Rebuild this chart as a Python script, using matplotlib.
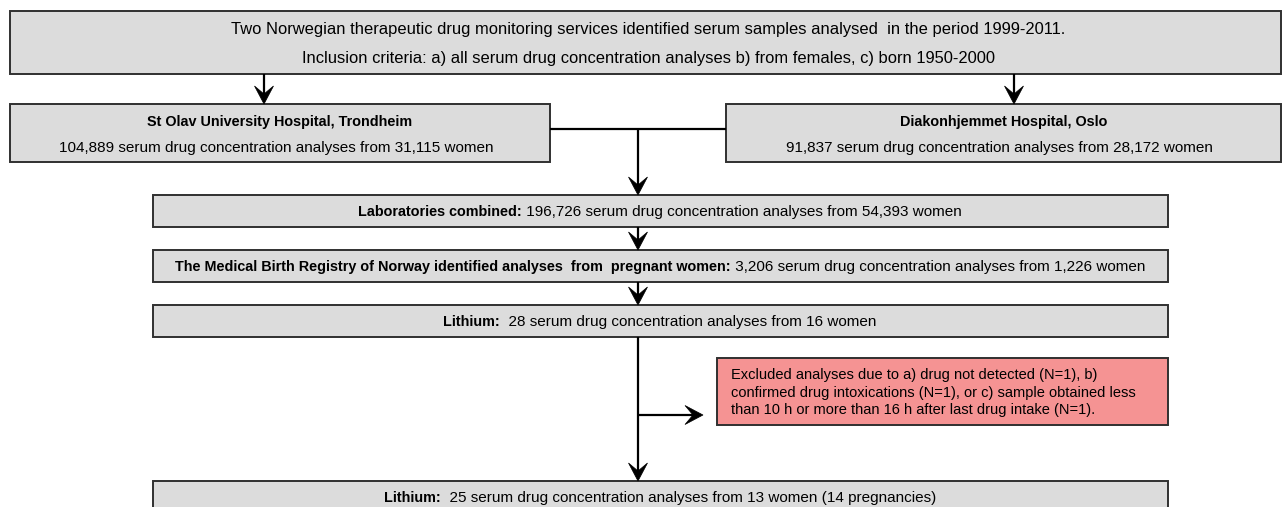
import matplotlib
matplotlib.use("Agg")
import matplotlib.pyplot as plt
from matplotlib.patches import Rectangle, Polygon

plt.rcParams['font.family'] = ['Liberation Sans', 'DejaVu Sans']

# ---- content ----
top_lines = [
    "Two Norwegian therapeutic drug monitoring services identified serum samples analysed  in the period 1999-2011.",
    "Inclusion criteria: a) all serum drug concentration analyses b) from females, c) born 1950-2000",
]
lab_names = ["St Olav University Hospital, Trondheim", "Diakonhjemmet Hospital, Oslo"]
lab_analyses = ["104,889", "91,837"]
lab_women = ["31,115", "28,172"]
step_bold = [
    "Laboratories combined:",
    "The Medical Birth Registry of Norway identified analyses  from  pregnant women:",
    "Lithium:",
    "Lithium:",
]
step_rest = [
    " 196,726 serum drug concentration analyses from 54,393 women",
    " 3,206 serum drug concentration analyses from 1,226 women",
    "  28 serum drug concentration analyses from 16 women",
    "  25 serum drug concentration analyses from 13 women (14 pregnancies)",
]
excluded_lines = [
    "Excluded analyses due to a) drug not detected (N=1), b)",
    "confirmed drug intoxications (N=1), or c) sample obtained less",
    "than 10 h or more than 16 h after last drug intake (N=1).",
]

# ---- style ----
W, H = 1285, 507
GRAY = "#dcdcdc"
RED = "#f59393"
EDGE = "#303030"
FS = 11
FS_BOLD = 10.4
FS_TOP = 11.9

fig = plt.figure(figsize=(W / 100, H / 100), dpi=100)
ax = fig.add_axes([0, 0, 1, 1])
ax.set_xlim(0, W)
ax.set_ylim(H, 0)
ax.axis("off")


def box(x0, y0, x1, y1, color=GRAY):
    ax.add_patch(Rectangle((x0, y0), x1 - x0, y1 - y0, facecolor=color,
                           edgecolor=EDGE, linewidth=1.4, zorder=2))


def line(xs, ys):
    ax.plot(xs, ys, color="black", linewidth=1.6, solid_capstyle="butt", zorder=3)


def head(x, y, direction="down"):
    L, Wd, notch = 18, 9.5, 10
    if direction == "down":
        pts = [(x, y), (x - Wd, y - L), (x, y - notch), (x + Wd, y - L)]
    else:  # right
        pts = [(x, y), (x - L, y - Wd), (x - notch, y), (x - L, y + Wd)]
    ax.add_patch(Polygon(pts, closed=True, facecolor="black", edgecolor="black",
                         linewidth=0.5, zorder=4))


def arrow_down(x, y0, y1):
    line([x, x], [y0, y1 - 6])
    head(x, y1)


def mixed(xc, yb, bold, rest):
    r = fig.canvas.get_renderer()
    t1 = ax.text(0, yb, bold, fontsize=FS_BOLD, fontweight="bold", ha="left", va="baseline", zorder=5)
    t2 = ax.text(0, yb, rest, fontsize=FS, ha="left", va="baseline", zorder=5)
    w1 = t1.get_window_extent(r).width
    w2 = t2.get_window_extent(r).width
    x0 = xc - (w1 + w2) / 2
    t1.set_x(x0)
    t2.set_x(x0 + w1)


# top box
box(10, 11, 1281, 74)
ax.text(648, 34, top_lines[0], fontsize=FS_TOP, ha="center", va="baseline", zorder=5)
ax.text(648, 63, top_lines[1], fontsize=FS_TOP, ha="center", va="baseline", zorder=5)

# laboratory boxes
lab_x = [(10, 550), (726, 1281)]
arrow_x = [264, 1014]
for i in range(2):
    x0, x1 = lab_x[i]
    box(x0, 104, x1, 162)
    xc = (x0 + x1) / 2
    ax.text(xc, 126, lab_names[i], fontsize=FS_BOLD, fontweight="bold", ha="center", va="baseline", zorder=5)
    ax.text(xc - 4, 152, f"{lab_analyses[i]} serum drug concentration analyses from {lab_women[i]} women",
            fontsize=FS, ha="center", va="baseline", zorder=5)
    arrow_down(arrow_x[i], 74, 104)

# connector
line([550, 726], [129, 129])
arrow_down(638, 129, 195)

# steps
steps_y = [(195, 227), (250, 282), (305, 337), (481, 520)]
baselines = [216, 271, 326, 502]
for i in range(4):
    y0, y1 = steps_y[i]
    box(153, y0, 1168, y1)
    mixed(660, baselines[i], step_bold[i], step_rest[i])

arrow_down(638, 227, 250)
arrow_down(638, 282, 305)
arrow_down(638, 337, 481)

# exclusion branch
line([638, 697], [415, 415])
head(703, 415, "right")
box(717, 358, 1168, 425, RED)
for k, s in enumerate(excluded_lines):
    ax.text(731, 379 + 17.5 * k, s, fontsize=FS - 0.5, ha="left", va="baseline", zorder=5)

fig.savefig("out.png", dpi=100)
